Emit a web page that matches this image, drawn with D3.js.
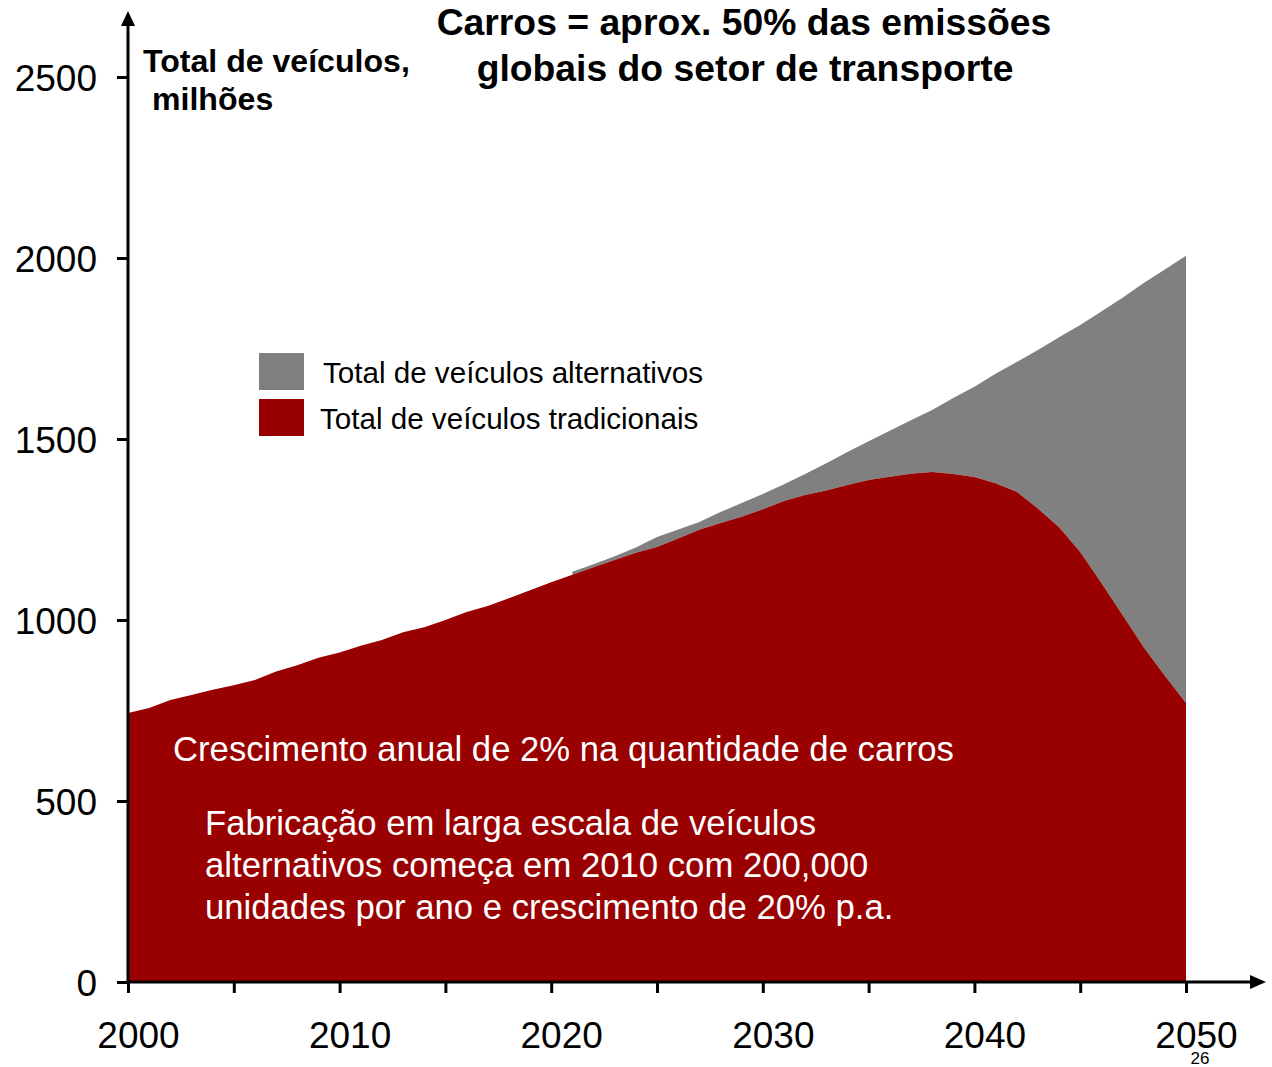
<!DOCTYPE html>
<html>
<head>
<meta charset="UTF-8" />
<title>Total de veículos</title>
<style>
  body { margin: 0; background: #fff; }
  svg text { font-family: "Liberation Sans", Arial, sans-serif; }
</style>
<script src="https://d3js.org/d3.v7.min.js"></script>
</head>
<body>
<svg id="viz" width="1272" height="1067"></svg>
<script>
// years on the x axis
var years = d3.range(2000, 2051);

// traditional vehicles, millions
var tradicionais = [
  743, 757, 779, 793, 807, 820, 834, 858, 875, 896,
  910, 929, 945, 966, 980, 1000, 1022, 1039, 1060, 1082,
  1104, 1125, 1146, 1166, 1186, 1202, 1225, 1249, 1268, 1285,
  1306, 1329, 1345, 1358, 1373, 1387, 1396, 1404, 1409, 1403,
  1395, 1378, 1354, 1308, 1256, 1188, 1102, 1014, 925, 846,
  771
];

// alternative vehicles, millions (none visible before 2021)
var alternativos = [
  null, null, null, null, null, null, null, null, null, null,
  null, null, null, null, null, null, null, null, null, null,
  null, 8, 8, 10, 14, 27, 25, 22, 30, 38,
  42, 46, 58, 75, 91, 107, 127, 148, 171, 210,
  249, 302, 359, 438, 525, 627, 750, 876, 1006, 1122,
  1235
];

var yTicks = [0, 500, 1000, 1500, 2000, 2500];
var xTicks = [2000, 2005, 2010, 2015, 2020, 2025, 2030, 2035, 2040, 2045, 2050];
var xLabels = [2000, 2010, 2020, 2030, 2040, 2050];

var legendItems = ["Total de veículos alternativos", "Total de veículos tradicionais"];
var colors = ["#808080", "#990000"];

var data = years.map(function (yr, i) {
  return { year: yr, trad: tradicionais[i], alt: alternativos[i] };
});

var svg = d3.select("#viz");
var x = d3.scaleLinear().domain([2000, 2050]).range([128, 1186]);
var y = d3.scaleLinear().domain([0, 2500]).range([982, 77]);

// gray layer on top of the red one
var altArea = d3.area()
  .defined(function (d) { return d.alt != null; })
  .x(function (d) { return x(d.year); })
  .y0(function (d) { return y(d.trad); })
  .y1(function (d) { return y(d.trad + d.alt); });

var tradArea = d3.area()
  .x(function (d) { return x(d.year); })
  .y0(y(0))
  .y1(function (d) { return y(d.trad); });

svg.append("path").datum(data).attr("d", altArea).attr("fill", colors[0]);
svg.append("path").datum(data).attr("d", tradArea).attr("fill", colors[1]);

// x axis
var xAxis = svg.append("g")
  .attr("transform", "translate(0," + y(0) + ")")
  .call(d3.axisBottom(x).tickValues(xTicks).tickSize(11)
    .tickFormat(function (d) { return xLabels.indexOf(d) >= 0 ? d : ""; }));
xAxis.select(".domain").remove();
xAxis.selectAll("line").attr("stroke", "#000").attr("stroke-width", 3);
xAxis.selectAll("text")
  .attr("x", 10).attr("y", 66).attr("dy", null)
  .attr("font-size", 37).attr("fill", "#000")
  .style("font-family", '"Liberation Sans", Arial, sans-serif');

// y axis
var yAxis = svg.append("g")
  .attr("transform", "translate(" + x(2000) + ",0)")
  .call(d3.axisLeft(y).tickValues(yTicks).tickSize(11).tickFormat(d3.format("d")));
yAxis.select(".domain").remove();
yAxis.selectAll("line").attr("stroke", "#000").attr("stroke-width", 3);
yAxis.selectAll("text")
  .attr("x", -31).attr("dy", "0.36em")
  .attr("font-size", 37).attr("fill", "#000")
  .style("font-family", '"Liberation Sans", Arial, sans-serif');

// axis lines with arrow heads
svg.append("line").attr("x1", 128).attr("y1", y(0) + 1.5).attr("x2", 128).attr("y2", 22)
  .attr("stroke", "#000").attr("stroke-width", 3);
svg.append("path").attr("d", "M128,11 L121,26 L135,26 Z").attr("fill", "#000");
svg.append("line").attr("x1", 126.5).attr("y1", y(0)).attr("x2", 1254).attr("y2", y(0))
  .attr("stroke", "#000").attr("stroke-width", 3);
svg.append("path").attr("d", "M1266," + y(0) + " L1250," + (y(0) - 7) + " L1250," + (y(0) + 7) + " Z")
  .attr("fill", "#000");

// title
svg.append("text").attr("x", 744).attr("y", 35).attr("text-anchor", "middle")
  .attr("font-size", 37.3).attr("font-weight", "bold")
  .text("Carros = aprox. 50% das emissões");
svg.append("text").attr("x", 745).attr("y", 81).attr("text-anchor", "middle")
  .attr("font-size", 37.3).attr("font-weight", "bold")
  .text("globais do setor de transporte");

// y axis title
svg.append("text").attr("x", 143).attr("y", 72)
  .attr("font-size", 32.1).attr("font-weight", "bold").text("Total de veículos,");
svg.append("text").attr("x", 152).attr("y", 110)
  .attr("font-size", 32.1).attr("font-weight", "bold").text("milhões");

// legend
var leg = svg.append("g");
legendItems.forEach(function (lbl, i) {
  leg.append("rect").attr("x", 259).attr("y", 353 + i * 46)
    .attr("width", 45).attr("height", 37).attr("fill", colors[i]);
  leg.append("text").attr("x", i === 0 ? 323 : 320).attr("y", 373 + i * 46)
    .attr("dy", "0.35em").attr("font-size", 29.6).text(lbl);
});

// annotations inside the red area
svg.append("text").attr("x", 173).attr("y", 749).attr("dy", "0.35em")
  .attr("font-size", 34.7).attr("fill", "#fff")
  .text("Crescimento anual de 2% na quantidade de carros");
var notes = [
  "Fabricação em larga escala de veículos",
  "alternativos começa em 2010 com 200,000",
  "unidades por ano e crescimento de 20% p.a."
];
notes.forEach(function (t, i) {
  svg.append("text").attr("x", 205).attr("y", 823 + i * 42).attr("dy", "0.35em")
    .attr("font-size", 34.7).attr("fill", "#fff").text(t);
});

// page number
svg.append("text").attr("x", 1200).attr("y", 1064).attr("text-anchor", "middle")
  .attr("font-size", 17).text("26");
</script>
</body>
</html>
